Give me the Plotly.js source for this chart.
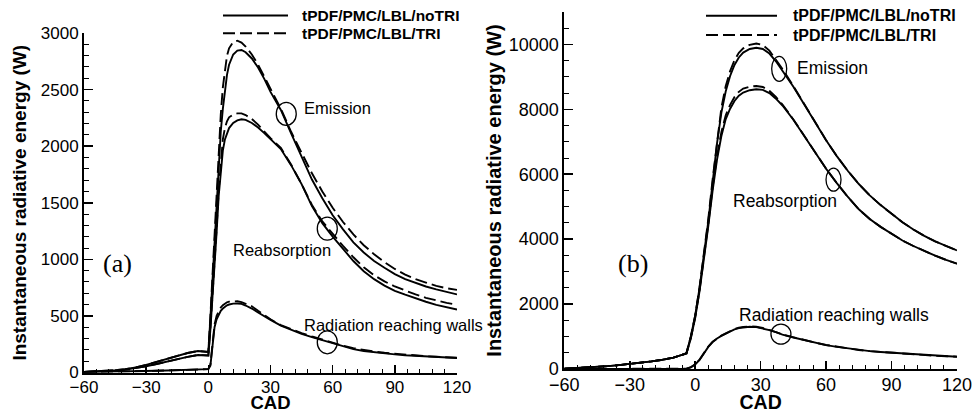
<!DOCTYPE html>
<html><head><meta charset="utf-8">
<script src="https://cdn.plot.ly/plotly-3.0.1.min.js"></script>
<style>html,body{margin:0;padding:0;background:#fff}#g{width:974px;height:413px}</style>
</head><body><div id="g"></div>
<script>
// ---------- DATA ----------
const seriesNames = ["tPDF/PMC/LBL/noTRI", "tPDF/PMC/LBL/TRI"];
const xTicks = [-60, -30, 0, 30, 60, 90, 120];

// Panel (a)
const xA = [-60,-55,-50,-45,-40,-35,-30,-25,-20,-15,-10,-5,-2,0,1,2,3,4,5,6,7,8,9,10,12,14,16,18,21,24,27,30,35,40,45,50,55,60,65,70,75,80,85,90,95,100,105,110,115,120];
const emisA_noTRI = [5,8,12,20,30,45,68,95,122,148,172,190,186,182,480,830,1170,1520,1870,2130,2330,2500,2630,2720,2810,2845,2850,2830,2775,2695,2595,2480,2320,2110,1900,1705,1540,1390,1265,1150,1060,985,925,870,825,790,760,735,710,690];
const emisA_TRI   = [5,8,12,20,30,45,68,95,122,148,172,190,186,182,500,870,1230,1600,1960,2280,2520,2690,2800,2865,2920,2932,2915,2880,2810,2720,2610,2500,2330,2125,1935,1760,1600,1455,1330,1220,1125,1045,975,915,865,825,795,765,745,730];
const reabA_noTRI = [4,6,10,16,25,38,55,75,97,118,138,155,155,150,380,640,930,1240,1560,1800,1960,2060,2120,2160,2205,2228,2238,2232,2205,2165,2115,2060,1975,1830,1665,1470,1320,1200,1090,985,895,825,768,722,688,655,625,598,576,556];
const reabA_TRI   = [4,6,10,16,25,38,55,75,97,118,138,155,155,150,390,660,960,1280,1610,1880,2060,2160,2220,2255,2280,2290,2290,2275,2240,2190,2130,2070,1985,1835,1665,1480,1335,1222,1118,1018,930,860,805,760,723,690,660,635,615,600];
const wallA_noTRI = [2,3,4,6,8,10,12,15,18,21,24,27,29,30,60,260,400,470,515,545,565,582,594,601,609,610,606,592,565,530,495,465,415,375,342,312,285,255,228,206,190,178,168,160,153,147,141,136,132,128];
const wallA_TRI   = [2,3,4,6,8,10,12,15,18,21,24,27,29,30,70,280,425,500,545,575,595,610,620,626,630,629,622,610,585,545,505,470,418,380,348,318,290,262,237,215,198,185,174,165,157,150,144,139,134,130];

// Panel (b)
const xB = [-60,-55,-50,-45,-40,-35,-30,-25,-20,-15,-10,-5,-4,-2,0,2,4,6,8,10,12,14,16,18,20,22,25,28,31,34,37,40,45,50,55,60,65,70,75,80,85,90,95,100,105,110,115,120];
const emisB_noTRI = [10,25,40,60,88,120,155,195,235,285,350,460,490,1000,1650,2500,3500,4550,5750,6950,7900,8560,9030,9370,9600,9750,9860,9900,9860,9720,9480,9200,8700,8150,7600,7050,6550,6100,5700,5350,5050,4780,4520,4300,4100,3930,3780,3654];
const emisB_TRI   = [10,25,40,60,88,120,155,195,235,285,350,460,490,1000,1650,2520,3540,4620,5850,7050,8050,8720,9180,9510,9740,9880,9990,10030,9980,9810,9540,9240,8720,8150,7600,7050,6550,6100,5700,5350,5050,4780,4520,4300,4100,3930,3780,3654];
const reabB_noTRI = [10,25,40,60,88,120,155,195,235,285,350,460,480,950,1580,2400,3350,4400,5500,6450,7180,7700,8020,8260,8420,8520,8590,8618,8600,8500,8330,8120,7680,7180,6680,6170,5720,5300,4920,4620,4380,4166,3960,3790,3630,3490,3360,3244];
const reabB_TRI   = [10,25,40,60,88,120,155,195,235,285,350,460,480,960,1600,2430,3400,4470,5600,6560,7300,7820,8140,8380,8540,8640,8700,8720,8690,8570,8380,8150,7690,7180,6680,6170,5720,5300,4920,4620,4380,4166,3960,3790,3630,3490,3360,3244];
const wallB_noTRI = [0,0,0,0,0,0,0,0,0,0,0,5,10,50,140,280,480,680,830,940,1020,1090,1160,1220,1260,1285,1300,1290,1255,1200,1135,1060,970,890,810,737,680,630,585,550,523,500,472,447,425,405,390,378];
const wallB_TRI   = [0,0,0,0,0,0,0,0,0,0,0,5,10,55,150,290,490,690,840,950,1030,1100,1170,1232,1272,1298,1312,1300,1262,1205,1138,1062,972,892,812,740,682,632,587,552,525,502,474,449,427,407,392,380];

const curveLabels = ["Emission", "Reabsorption", "Radiation reaching walls"];
const panelLabels = ["(a)", "(b)"];

// ---------- LAYOUT HELPERS ----------
const W = 974, H = 413;
const PX = p => p / W, PY = p => 1 - p / H;
const SANS = "Liberation Sans, Arial, Helvetica, sans-serif";
const SERIF = "Liberation Serif, Times New Roman, serif";
const DASH = "12px,5px";

function tr(x, y, ax, dashed) {
  return {x: x, y: y, type: "scatter", mode: "lines", xaxis: ax[0], yaxis: ax[1],
    showlegend: false, hoverinfo: "skip",
    line: {color: "#000", width: 1.9, dash: dashed ? DASH : "solid"}};
}
const data = [
  tr(xA, emisA_noTRI, ["x","y"], false), tr(xA, emisA_TRI, ["x","y"], true),
  tr(xA, reabA_noTRI, ["x","y"], false), tr(xA, reabA_TRI, ["x","y"], true),
  tr(xA, wallA_noTRI, ["x","y"], false), tr(xA, wallA_TRI, ["x","y"], true),
  tr(xB, emisB_noTRI, ["x2","y2"], false), tr(xB, emisB_TRI, ["x2","y2"], true),
  tr(xB, reabB_noTRI, ["x2","y2"], false), tr(xB, reabB_TRI, ["x2","y2"], true),
  tr(xB, wallB_noTRI, ["x2","y2"], false), tr(xB, wallB_TRI, ["x2","y2"], true)
];

function xax(domain, fs, anchor) {
  return {domain: domain, anchor: anchor, range: [-60, 120], tickvals: xTicks, ticks: "inside",
    ticklen: 8, tickwidth: 1.6, tickcolor: "#000", showline: true, linewidth: 2, linecolor: "#000",
    ticklabelstandoff: -2,
    showgrid: false, zeroline: false, tickfont: {family: SANS, size: fs, color: "#000"},
    minor: {dtick: 6, tick0: 0, ticks: "inside", ticklen: 4, tickwidth: 1, tickcolor: "#000", showgrid: false},
    title: {text: "<b>CAD</b>", font: {family: SANS, size: fs + 1.5, color: "#000"}, standoff: 4}};
}
function yax(domain, range, dtick, mdtick, fs, anchor, so) {
  return {domain: domain, anchor: anchor, range: range, dtick: dtick, tick0: 0, tickformat: "d", ticks: "inside",
    ticklen: 9, tickwidth: 1.6, tickcolor: "#000", showline: true, linewidth: 2, linecolor: "#000",
    showgrid: false, zeroline: false, tickfont: {family: SANS, size: fs, color: "#000"},
    minor: {dtick: mdtick, tick0: 0, ticks: "inside", ticklen: 5, tickwidth: 1, tickcolor: "#000", showgrid: false},
    title: {text: "<b>Instantaneous radiative energy (W)</b>", font: {family: SANS, size: fs + 2, color: "#000"}, standoff: so}};
}

const shapes = [];
const annotations = [];
// legends (one per panel)
function legend(x0, x1, xt, y1, y2, fs) {
  shapes.push({type: "line", xref: "paper", yref: "paper", x0: PX(x0), x1: PX(x1), y0: PY(y1), y1: PY(y1), line: {color: "#000", width: 2}});
  shapes.push({type: "line", xref: "paper", yref: "paper", x0: PX(x0), x1: PX(x1), y0: PY(y2), y1: PY(y2), line: {color: "#000", width: 2, dash: DASH}});
  [y1, y2].forEach((yy, i) => annotations.push({xref: "paper", yref: "paper", x: PX(xt), y: PY(yy), xanchor: "left", yanchor: "middle",
    text: "<b>" + seriesNames[i] + "</b>", showarrow: false, font: {family: SANS, size: fs, color: "#000"}}));
}
legend(223, 288, 300, 15.5, 33.3, 15.5);
legend(706, 777, 791, 15.7, 35, 16);

function circ(xa, ya, cx, cy, w, h) {
  shapes.push({type: "circle", xref: xa, yref: ya, xsizemode: "pixel", ysizemode: "pixel", xanchor: cx, yanchor: cy,
    x0: -w / 2, x1: w / 2, y0: -h / 2, y1: h / 2, line: {color: "#000", width: 1.3}});
}
function txt(t, xp, yp, fs, fam) {
  annotations.push({xref: "paper", yref: "paper", x: PX(xp), y: PY(yp), xanchor: "left", yanchor: "middle",
    text: t, showarrow: false, font: {family: fam || SANS, size: fs, color: "#000"}});
}
// panel (a) callouts
circ("x", "y", 37.6, 2285, 20, 23); txt(curveLabels[0], 302, 108, 16.5);
circ("x", "y", 57.4, 1271, 20, 23); txt(curveLabels[1], 231, 250, 16.5);
circ("x", "y", 57.4, 267, 20, 23);  txt(curveLabels[2], 302, 325, 16.5);
txt(panelLabels[0], 101, 263, 26, SERIF);
// panel (b) callouts
circ("x2", "y2", 38.5, 9250, 15, 25); txt(curveLabels[0], 795, 68, 17.5);
circ("x2", "y2", 63.4, 5833, 15, 23); txt(curveLabels[1], 731, 201, 17.5);
circ("x2", "y2", 39.3, 1075, 20, 20); txt(curveLabels[2], 737, 315, 17.5);
txt(panelLabels[1], 616, 263, 26, SERIF);

const layout = {
  width: W, height: H, margin: {l: 0, r: 0, t: 0, b: 0}, paper_bgcolor: "#fff", plot_bgcolor: "#fff",
  showlegend: false,
  xaxis: xax([PX(84), PX(457)], 17, "y"),
  yaxis: yax([PY(372.5), PY(33)], [0, 3000], 500, 100, 17, "x", 9),
  xaxis2: xax([PX(564.3), PX(957)], 18, "y2"),
  yaxis2: yax([PY(369), PY(12)], [0, 11000], 2000, 500, 18, "x2", 2),
  shapes: shapes, annotations: annotations
};
layout.yaxis2.tickvals = [0, 2000, 4000, 6000, 8000, 10000];
Plotly.newPlot("g", data, layout, {staticPlot: true, displayModeBar: false});
</script></body></html>
